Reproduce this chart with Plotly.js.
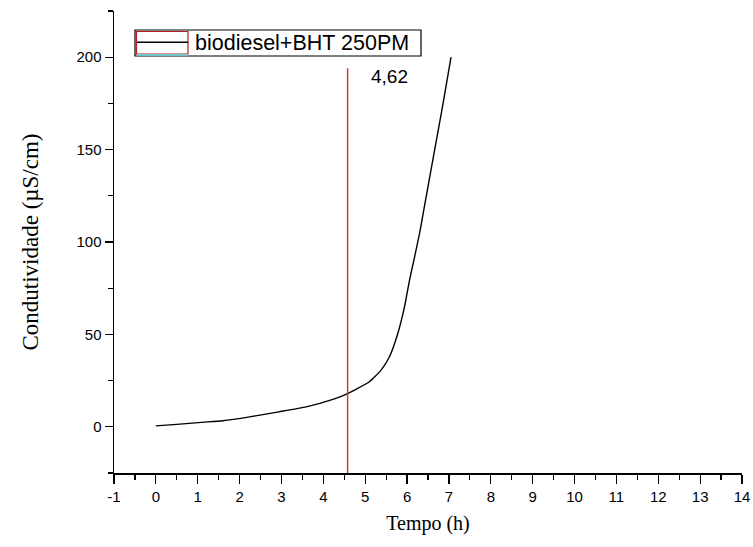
<!DOCTYPE html>
<html>
<head>
<meta charset="utf-8">
<script src="https://cdn.plot.ly/plotly-3.0.1.min.js"></script>
<style>html,body{margin:0;padding:0;background:#fff;}#chart{width:753px;height:547px;}</style>
</head>
<body>
<div id="chart"></div>
<script>
// Conductivity curve (time in h, conductivity in µS/cm)
const tempo = [0, 0.5, 1.09, 1.6, 2.24, 2.94, 3.59, 4.23, 4.58, 5.1, 5.38, 5.58, 5.78, 5.94, 6.06, 6.18, 6.3, 6.42, 6.66, 6.86, 7.05];
const condutividade = [0.5, 1.3, 2.4, 3.3, 5.4, 8.1, 10.8, 14.8, 18, 24.4, 30.7, 37.9, 50.6, 65, 79.5, 92, 104.8, 120, 150, 175, 200];
// Induction period marker
const inducaoX = [4.58, 4.58];
const inducaoY = [-25, 194];
const inducaoLabel = "4,62";
const seriesName = "biodiesel+BHT 250PM";
const xTickVals = [-1,0,1,2,3,4,5,6,7,8,9,10,11,12,13,14];
const xTickText = ["-1","0","1","2","3","4","5","6","7","8","9","10","11","12","13","14"];
const yTickVals = [0, 50, 100, 150, 200];

const traces = [
  {x: tempo, y: condutividade, type: 'scatter', mode: 'lines', name: seriesName, showlegend: false,
   line: {color: '#000000', width: 1.4, shape: 'spline', smoothing: 0.5}},
  {x: inducaoX, y: inducaoY, type: 'scatter', mode: 'lines', showlegend: false,
   line: {color: '#cc3b3b', width: 1.5}, hoverinfo: 'skip'}
];

// legend box geometry in paper coordinates (plot area: x 114..742, y 11..473 px)
const W = 628, H = 462, L = 114, T = 11;
const px = v => (v - L) / W;
const py = v => 1 - (v - T) / H;

const layout = {
  width: 753, height: 547,
  margin: {l: 114, r: 11, t: 11, b: 74},
  paper_bgcolor: '#ffffff', plot_bgcolor: '#ffffff',
  font: {family: 'Liberation Sans, Arial, sans-serif', color: '#000'},
  showlegend: false,
  xaxis: {
    range: [-1, 14], tickvals: xTickVals, ticktext: xTickText, ticks: 'outside', ticklen: 9, tickwidth: 1.2, tickcolor: '#000',
    showline: true, linecolor: '#000', linewidth: 1.5, showgrid: false, zeroline: false,
    tickfont: {size: 15, family: 'Liberation Sans, Arial, sans-serif'},
    minor: {dtick: 0.5, tick0: -1, ticks: 'outside', ticklen: 5, tickwidth: 1.2, tickcolor: '#000', showgrid: false},
    title: {text: 'Tempo (h)', font: {size: 20, family: 'Liberation Serif, Times New Roman, serif'}, standoff: 12}
  },
  yaxis: {
    range: [-25, 225], tickvals: yTickVals, ticks: 'outside', ticklen: 8, tickwidth: 1.2, tickcolor: '#000',
    showline: true, linecolor: '#000', linewidth: 1.5, showgrid: false, zeroline: false,
    tickfont: {size: 15, family: 'Liberation Sans, Arial, sans-serif'},
    minor: {dtick: 25, tick0: 0, ticks: 'outside', ticklen: 5, tickwidth: 1.2, tickcolor: '#000', showgrid: false},
    title: {text: 'Condutividade (µS/cm)', font: {size: 23, family: 'Liberation Serif, Times New Roman, serif'}, standoff: 31}
  },
  shapes: [
    {type: 'rect', xref: 'paper', yref: 'paper', x0: px(135), x1: px(421), y0: py(56), y1: py(30),
     line: {color: '#000', width: 1.2}, fillcolor: '#fff', layer: 'above'},
    {type: 'rect', xref: 'paper', yref: 'paper', x0: px(136.5), x1: px(188), y0: py(54), y1: py(31.5),
     line: {color: '#b22222', width: 1.2}, layer: 'above'},
    {type: 'line', xref: 'paper', yref: 'paper', x0: px(137), x1: px(188), y0: py(42.3), y1: py(42.3),
     line: {color: '#000', width: 1.5}, layer: 'above'},
    {type: 'line', xref: 'paper', yref: 'paper', x0: px(137), x1: px(188), y0: py(55), y1: py(55),
     line: {color: '#5fd8e0', width: 1.5}, layer: 'above'}
  ],
  annotations: [
    {x: 5.59, y: 189.8, xref: 'x', yref: 'y', text: inducaoLabel, showarrow: false,
     font: {size: 19, family: 'Liberation Sans, Arial, sans-serif', color: '#000'}},
    {x: px(193), y: py(43), xref: 'paper', yref: 'paper', xanchor: 'left', yanchor: 'middle',
     text: seriesName, showarrow: false,
     font: {size: 21.5, family: 'Liberation Sans, Arial, sans-serif', color: '#000'}}
  ]
};

Plotly.newPlot('chart', traces, layout, {displayModeBar: false, staticPlot: true});
</script>
</body>
</html>
